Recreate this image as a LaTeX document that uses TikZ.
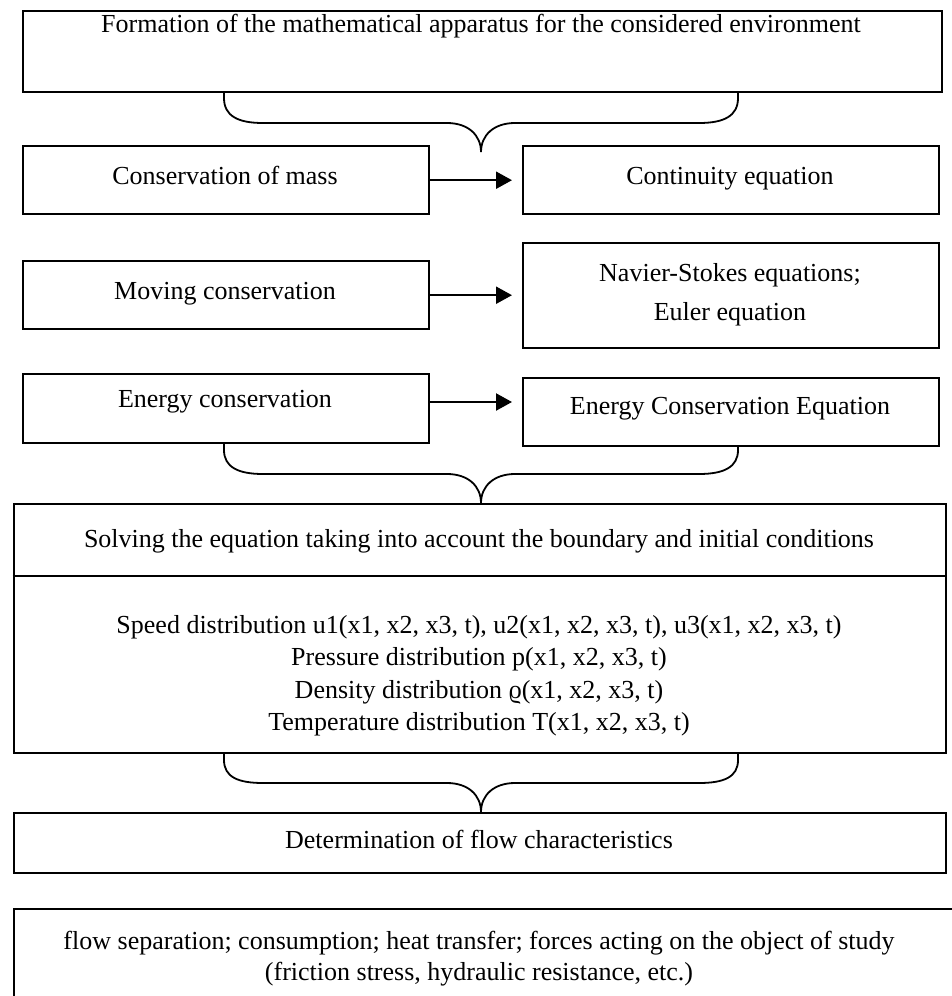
\documentclass[tikz,border=0pt]{standalone}
\usepackage{fontspec}
\setmainfont{Liberation Serif}
\usetikzlibrary{arrows.meta}
\begin{document}
\begin{tikzpicture}[x=0.5pt,y=-0.5pt,
  box/.style={draw,line width=1.2pt,rectangle,inner sep=0pt,anchor=north west},
  txt/.style={inner sep=0pt,text height=1.6ex,text depth=0.45ex,font=\fontsize{13}{15}\selectfont},
  arr/.style={line width=1.1pt,shorten >=5pt,-{Triangle[length=8pt,width=8.5pt]}},
  brace/.style={line width=0.9pt,line join=round}]
\useasboundingbox (0,0) rectangle (952,996);
\clip (0,0) rectangle (952,996);
% top box
\node[box,minimum width=459.75pt,minimum height=40.75pt] (b1) at (21.5,9.5) {};
\node[txt] (b1t) at (481,27) {Formation of the mathematical apparatus for the considered environment};
% brace 1
\draw[brace] (224,92) -- (224,98) .. controls (224,116) and (238,123) .. (263,123) -- (447,123) .. controls (468,123) and (481,135) .. (481,152);
\draw[brace] (738,92) -- (738,98) .. controls (738,116) and (724,123) .. (699,123) -- (515,123) .. controls (494,123) and (481,135) .. (481,152);
% row 1
\node[box,minimum width=203.25pt,minimum height=34pt] (cm) at (21.5,145) {};
\node[txt] (cmt) at (225,179) {Conservation of mass};
\node[box,minimum width=208pt,minimum height=34pt] (ce) at (522,145) {};
\node[txt] (cet) at (730,179) {Continuity equation};
\draw[arr] (cm.east) -- (ce.west);
% row 2
\node[box,minimum width=203.25pt,minimum height=34pt] (mc) at (21.5,260) {};
\node[txt] (mct) at (225,294) {Moving conservation};
\node[box,minimum width=208pt,minimum height=52.5pt] (ns) at (522,242) {};
\node[txt] (nst1) at (730,276) {Navier-Stokes equations;};
\node[txt] (nst2) at (730,315) {Euler equation};
\draw[arr] (mc.east) -- (mc.east -| ns.west);
% row 3
\node[box,minimum width=203.25pt,minimum height=34.5pt] (ec) at (21.5,373) {};
\node[txt] (ect) at (225,402) {Energy conservation};
\node[box,minimum width=208pt,minimum height=34pt] (ece) at (522,377) {};
\node[txt] (ecet) at (730,409) {Energy Conservation Equation};
\draw[arr] (ec.east |- ect) -- (ece.west |- ect);
% brace 2
\draw[brace] (224,443) -- (224,450) .. controls (224,467) and (238,474) .. (263,474) -- (447,474) .. controls (468,474) and (481,486) .. (481,503);
\draw[brace] (738,446) -- (738,450) .. controls (738,467) and (724,474) .. (699,474) -- (515,474) .. controls (494,474) and (481,486) .. (481,503);
% solving box
\node[box,minimum width=466.25pt,minimum height=124.5pt] (sol) at (12.5,503) {};
\draw[line width=1.2pt] (sol.west |- 0,576) -- (sol.east |- 0,576);
\node[txt] (solt) at (479,542) {Solving the equation taking into account the boundary and initial conditions};
\node[txt] (s1) at (479,628) {Speed distribution u1(x1, x2, x3, t), u2(x1, x2, x3, t), u3(x1, x2, x3, t)};
\node[txt] (s2) at (479,660) {Pressure distribution p(x1, x2, x3, t)};
\node[txt] (s3) at (479,693) {Density distribution ϱ(x1, x2, x3, t)};
\node[txt] (s4) at (479,725) {Temperature distribution T(x1, x2, x3, t)};
% brace 3
\draw[brace] (224,753) -- (224,760) .. controls (224,777) and (238,783) .. (263,783) -- (447,783) .. controls (468,783) and (481,795) .. (481,812);
\draw[brace] (738,753) -- (738,760) .. controls (738,777) and (724,783) .. (699,783) -- (515,783) .. controls (494,783) and (481,795) .. (481,812);
% determination
\node[box,minimum width=466.25pt,minimum height=30pt] (det) at (12.5,812) {};
\node[txt] (dett) at (479,843) {Determination of flow characteristics};
% last box
\node[box,minimum width=480pt,minimum height=70pt] (last) at (12.5,908) {};
\node[txt] (l1) at (479,944) {flow separation; consumption; heat transfer; forces acting on the object of study};
\node[txt] (l2) at (479,975) {(friction stress, hydraulic resistance, etc.)};
\end{tikzpicture}
\end{document}
